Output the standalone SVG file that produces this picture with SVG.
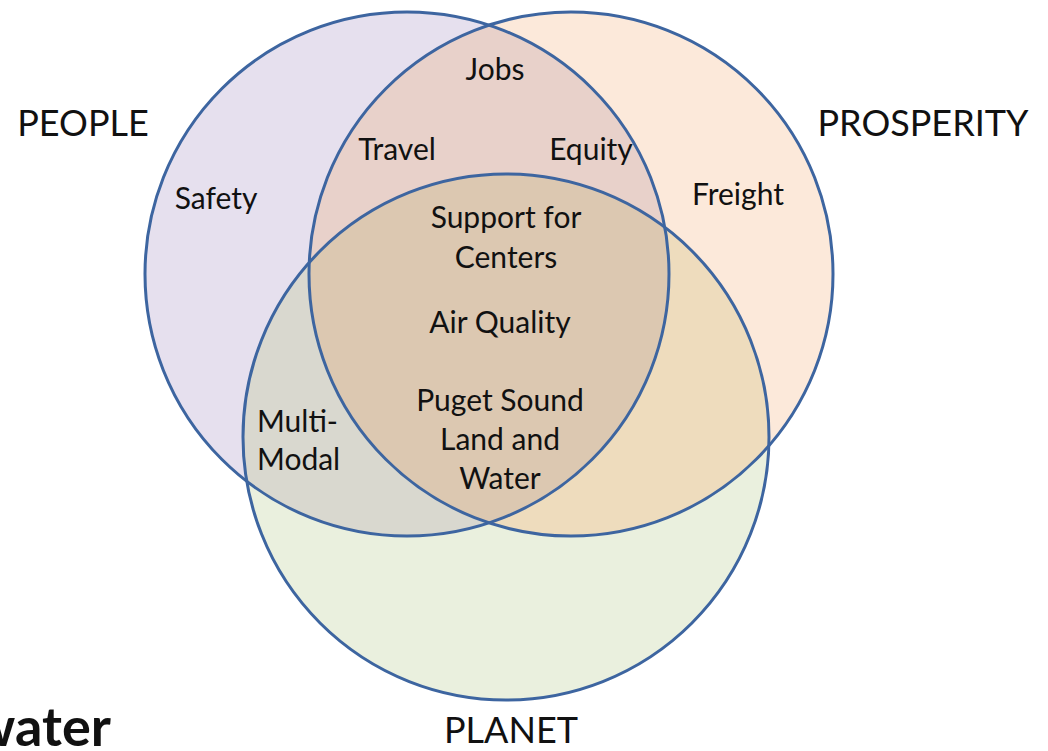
<svg xmlns="http://www.w3.org/2000/svg" width="1048" height="751" viewBox="0 0 1048 751">
<style>
  .lbl{font-family:Lato,"Open Sans","Liberation Sans",sans-serif;font-size:30px;fill:#111;text-anchor:middle}
  .big{font-family:Lato,"Open Sans","Liberation Sans",sans-serif;font-size:36px;fill:#111;text-anchor:middle}
  .ring{fill:none;stroke:#3d65a0;stroke-width:3}
</style>
<defs>
  <clipPath id="cPeople"><circle cx="407" cy="274" r="262"/></clipPath>
  <clipPath id="cPros"><circle cx="571" cy="274" r="262"/></clipPath>
  <clipPath id="cPlanet"><circle cx="506" cy="437" r="263"/></clipPath>
</defs>
<rect width="1048" height="751" fill="#ffffff"/>
<g id="fills">
  <circle cx="407" cy="274" r="262" fill="#e6e0ee"/>
  <circle cx="571" cy="274" r="262" fill="#fce9da"/>
  <circle cx="506" cy="437" r="263" fill="#eaf0de"/>
  <circle cx="571" cy="274" r="262" fill="#e8d1ca" clip-path="url(#cPeople)"/>
  <g clip-path="url(#cPlanet)">
    <circle cx="407" cy="274" r="262" fill="#d9d8cf"/>
    <circle cx="571" cy="274" r="262" fill="#eedcbd"/>
    <g clip-path="url(#cPeople)">
      <circle cx="571" cy="274" r="262" fill="#dcc8b1"/>
    </g>
  </g>
</g>
<g id="people"><circle class="ring" cx="407" cy="274" r="262"/><text class="big" x="83" y="136">PEOPLE</text><text class="lbl" x="216" y="209">Safety</text></g>
<g id="prosperity"><circle class="ring" cx="571" cy="274" r="262"/><text class="big" x="923" y="136">PROSPERITY</text><text class="lbl" x="738" y="205">Freight</text></g>
<g id="planet"><circle class="ring" cx="506" cy="437" r="263"/><text class="big" x="511" y="743">PLANET</text></g>
<g id="labels">
  <text class="lbl" x="495" y="80">Jobs</text>
  <text class="lbl" x="397" y="160">Travel</text>
  <text class="lbl" x="591" y="160">Equity</text>
  <text class="lbl" x="506" y="228">Support for</text>
  <text class="lbl" x="506" y="268">Centers</text>
  <text class="lbl" x="500" y="333">Air Quality</text>
  <text class="lbl" x="500" y="411">Puget Sound</text>
  <text class="lbl" x="500" y="450">Land and</text>
  <text class="lbl" x="500" y="489">Water</text>
  <text class="lbl" x="257" y="432" style="text-anchor:start">Multi-</text>
  <text class="lbl" x="257" y="470" style="text-anchor:start">Modal</text>
</g>
<text x="-28" y="746" style="font-family:Lato,'Open Sans','Liberation Sans',sans-serif;font-weight:bold;font-size:54px;fill:#111">water</text>
</svg>
